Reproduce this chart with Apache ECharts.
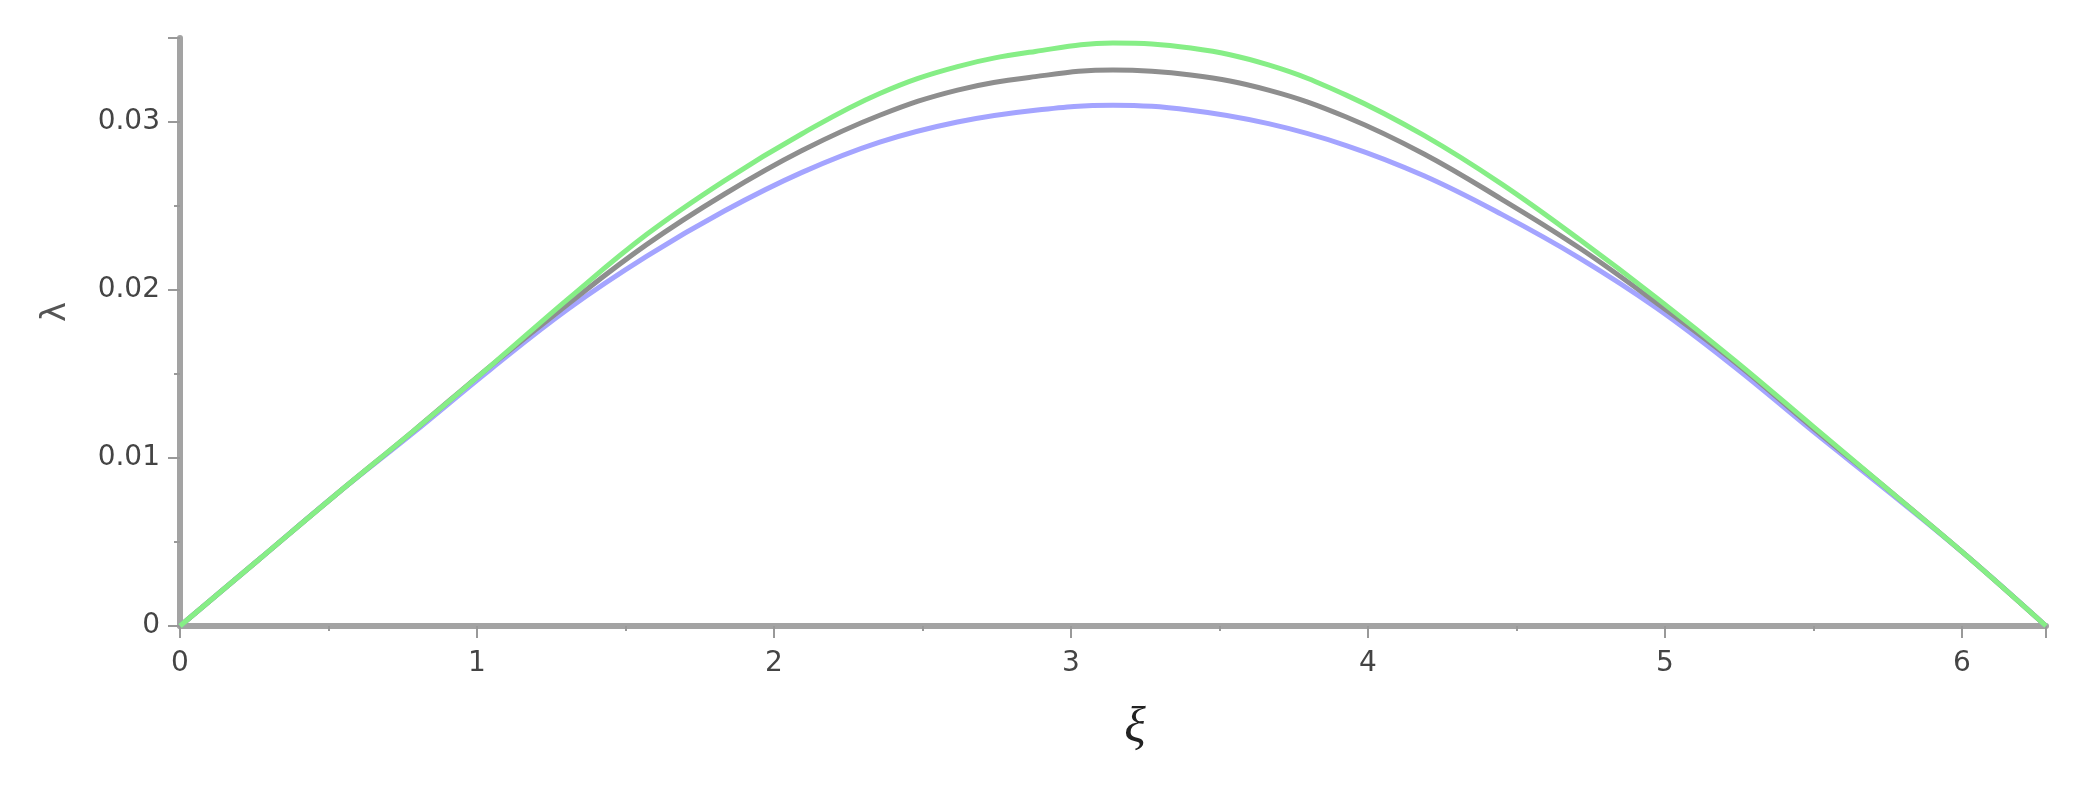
<!DOCTYPE html>
<html>
<head>
<meta charset="utf-8">
<script src="https://cdn.jsdelivr.net/npm/echarts@6/dist/echarts.min.js"></script>
<style>
  html, body { margin: 0; padding: 0; background: #fff; }
  #chart { width: 2080px; height: 794px; }
</style>
</head>
<body>
<div id="chart"></div>
<script>
// xi positions, steps of pi/12 from 0 to 2*pi
const xi = [0, 0.2618, 0.5236, 0.7854, 1.0472, 1.309, 1.5708, 1.8326, 2.0944, 2.3562, 2.618, 2.8798, 3.1416,
  3.4034, 3.6652, 3.927, 4.1888, 4.4506, 4.7124, 4.9742, 5.236, 5.4978, 5.7596, 6.0214, 6.2832]

// lambda values
const greenVals = [0, 0.0039, 0.0078, 0.0116, 0.0155, 0.0195, 0.0233, 0.0265, 0.0293, 0.0317, 0.0333, 0.0342, 0.0347,
  0.0344, 0.0334, 0.0316, 0.0292, 0.0263, 0.0230, 0.0195, 0.0158, 0.0119, 0.0080, 0.0041, 0]
const grayVals = [0, 0.0039, 0.0078, 0.0116, 0.0155, 0.0192, 0.0227, 0.0257, 0.0283, 0.0304, 0.0319, 0.0327, 0.0331,
  0.0328, 0.0319, 0.0303, 0.0281, 0.0254, 0.0225, 0.0192, 0.0157, 0.0118, 0.0080, 0.0041, 0]
const blueVals = [0, 0.0039, 0.0078, 0.0115, 0.0153, 0.0189, 0.0220, 0.0247, 0.0270, 0.0288, 0.0300, 0.0307, 0.0310,
  0.0307, 0.0299, 0.0286, 0.0268, 0.0245, 0.0219, 0.0189, 0.0154, 0.0116, 0.0079, 0.0041, 0]

const pairs = (ys) => xi.map((x, i) => [x, ys[i]])

const axisGray = '#a3a3a3'
const labelStyle = { color: '#444', fontFamily: 'DejaVu Sans', fontSize: 28 }

const chart = echarts.init(document.getElementById('chart'))
const lineSeries = (name, vals, color) => ({
  name: name,
  type: 'line',
  data: pairs(vals),
  smooth: 0.4,
  showSymbol: false,
  lineStyle: { color: color, width: 5 },
  itemStyle: { color: color }
})

chart.setOption({
  animation: false,
  grid: { left: 180, right: 34, top: 38, bottom: 168 },
  xAxis: {
    type: 'value',
    min: 0,
    max: 6.2832,
    interval: 1,
    name: 'ξ',
    nameLocation: 'middle',
    nameGap: 78,
    nameTextStyle: { fontFamily: 'Liberation Serif', fontStyle: 'italic', fontSize: 50, color: '#222', padding: [0, 0, 0, 44] },
    axisLine: { lineStyle: { color: axisGray, width: 6 } },
    axisTick: { length: 12, lineStyle: { color: '#999', width: 2 } },
    minorTick: { show: true, splitNumber: 2, length: 5, lineStyle: { color: '#999', width: 2 } },
    splitLine: { show: false },
    axisLabel: Object.assign({ margin: 24, showMaxLabel: false }, labelStyle)
  },
  yAxis: {
    type: 'value',
    min: 0,
    max: 0.035,
    interval: 0.01,
    name: 'λ',
    nameLocation: 'middle',
    nameGap: 107,
    nameRotate: 90,
    nameTextStyle: { fontFamily: 'DejaVu Sans', fontSize: 34, color: '#555', padding: [0, 0, 0, 40] },
    axisLine: { show: true, lineStyle: { color: axisGray, width: 6 } },
    axisTick: { show: true, length: 12, lineStyle: { color: '#999', width: 2 } },
    minorTick: { show: true, splitNumber: 2, length: 6, lineStyle: { color: '#999', width: 2 } },
    splitLine: { show: false },
    axisLabel: Object.assign({ margin: 20, showMaxLabel: false }, labelStyle)
  },
  series: [
    lineSeries('blue', blueVals, '#a4a4ff'),
    lineSeries('gray', grayVals, '#8e8e8e'),
    lineSeries('green', greenVals, '#86ee86')
  ]
})
window.addEventListener('resize', chart.resize)
</script>
</body>
</html>
